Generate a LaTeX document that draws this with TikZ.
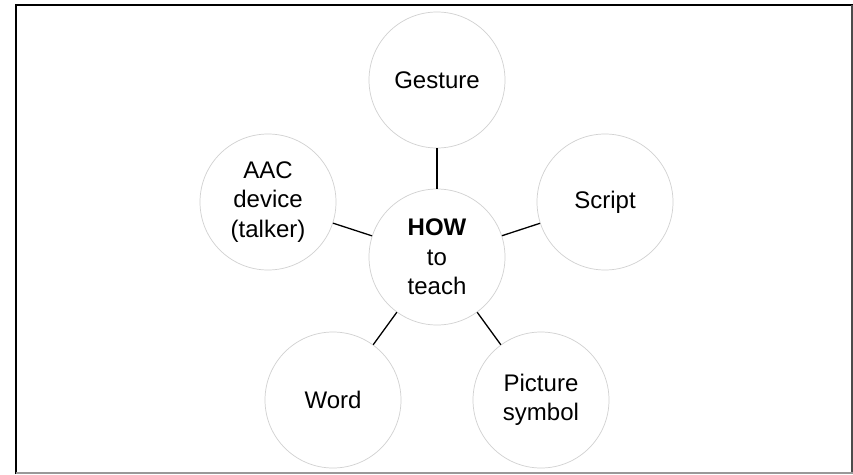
\documentclass[tikz,border=0pt]{standalone}
\usepackage{fontspec}
\setmainfont{Liberation Sans}
\begin{document}
\begin{tikzpicture}[x=1pt,y=-1pt,
  topic/.style={circle, draw=black!18, line width=0.7pt, minimum size=136pt,
    inner sep=0pt, align=center, font=\fontsize{24}{29.5}\selectfont},
  link/.style={draw=black, line width=1.3pt}]
  \useasboundingbox (0,0) rectangle (853,474);
  % outer frame
  \fill[white] (0,0) rectangle (853,474);
  \draw[line width=2.5pt] (16,474) -- (16,5.2) -- (853,5.2);
  \draw[black!70, line width=2pt] (852,5) -- (852,474);
  \draw[black!40, line width=2pt] (16,473) -- (853,473);
  % hub and topics
  \node[topic] (how) at (437,257) {\textbf{HOW}\\to\\teach};
  \node[topic] (gesture) at (437,80) {Gesture};
  \node[topic] (aac) at (268,202) {AAC\\device\\(talker)};
  \node[topic] (script) at (605,202) {Script};
  \node[topic] (word) at (333,400) {Word};
  \node[topic] (pic) at (541,400) {Picture\\symbol};
  % connectors
  \foreach \t in {gesture,aac,script,word,pic}
    \draw[link] (how) -- (\t);
\end{tikzpicture}
\end{document}
